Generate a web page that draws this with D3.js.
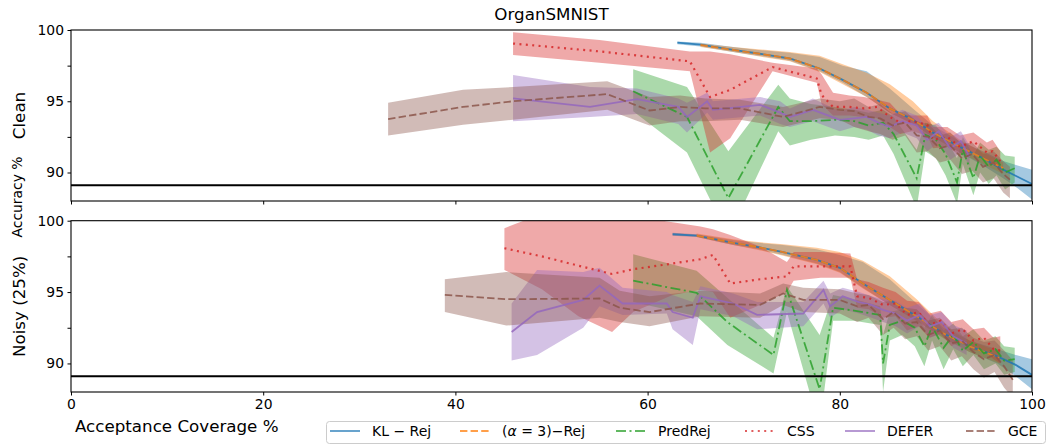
<!DOCTYPE html>
<html lang="en">
<head>
<meta charset="UTF-8">
<script src="https://d3js.org/d3.v7.min.js"></script>
<style>
  body { margin: 0; background: #fff; }
  svg { font-family: "DejaVu Sans", sans-serif; }
</style>
</head>
<body>
<svg id="chart" width="1049" height="445"></svg>
<script>
// method names, x ticks and y ticks
var methods = ["KL − Rej", "(α = 3)−Rej", "PredRej", "CSS", "DEFER", "GCE"];
var xTicks = [0, 20, 40, 60, 80, 100];
var yTicks = [90, 92.5, 95, 97.5, 100];
var baseline = 89.1;

// rows are [coverage, mean acc, lower, upper]
var cleanKL = [[63.1,99.12,99.0,99.2],[65.5,98.98,98.85,99.1],[68.9,98.6,98.45,98.8],[71.5,98.35,98.2,98.6],
  [74.8,98.0,97.85,98.4],[77.9,97.3,97.1,98.1],[80.3,96.5,96.3,97.5],[82.8,95.6,95.3,97.1],[85.2,94.5,94.2,95.9],
  [87.6,93.7,93.4,94.5],[89.7,92.8,92.5,93.3],[92.5,91.8,91.4,92.2],[94.9,91.0,90.5,91.5],[97.0,90.2,89.6,90.8],
  [98.5,89.7,88.9,90.5],[100,89.2,88.1,90.2]];
var cleanAlpha = [[65.5,98.95,98.8,99.05],[68.9,98.6,98.45,98.8],[71.5,98.35,98.15,98.65],[74.8,98.0,97.8,98.45],
  [77.9,97.3,97.05,98.2],[80.3,96.5,96.2,97.6],[82.8,95.6,95.3,97.0],[85.2,94.5,94.2,96.2],[87.6,93.7,93.4,95.0],
  [89.7,92.8,92.5,93.6],[92.5,91.8,91.4,92.3],[94.9,91.0,90.6,91.4],[97.0,90.3,89.9,90.7]];
var cleanPred = [[58.5,95.7,94.3,97.25],[64.1,93.9,91.4,96.0],[68.4,88.2,85.5,91.5],[73.6,94.6,92.9,96.15],
  [74.8,93.6,91.9,95.2],[77.0,93.6,92.3,94.8],[79.5,93.7,92.6,94.6],[81.5,93.6,92.5,94.4],[83.0,93.3,92.3,94.2],
  [84.5,93.5,92.6,94.4],[85.6,92.7,91.3,93.9],[88.0,89.6,87.5,91.6],[88.9,92.65,91.5,93.5],[90.0,92.3,91.0,93.3],
  [91.0,91.3,89.8,92.4],[92.2,89.3,87.8,91.0],[92.8,91.6,90.6,92.5],[93.9,89.6,88.4,91.2],[94.6,91.2,90.0,92.1],
  [95.5,90.4,89.2,91.6],[96.3,90.9,89.8,91.8],[97.2,90.0,88.8,91.2],[98.2,90.3,89.3,91.1]];
var cleanCSS = [[46.0,99.05,98.25,99.85],[55.0,98.5,97.7,99.3],[64.4,97.8,97.1,98.5],[66.5,95.3,91.4,98.5],
  [68.6,95.8,92.4,98.3],[73.0,97.4,97.1,97.7],[77.6,96.6,96.3,97.3],[78.1,95.45,94.8,96.9],[79.3,94.6,94.0,95.6],
  [81.0,94.6,94.0,95.4],[82.5,94.5,93.9,95.3],[83.9,94.6,93.8,95.1],[85.2,93.9,93.2,94.9],[86.3,93.5,92.7,94.1],
  [87.5,93.6,92.9,94.0],[89.1,93.35,92.6,94.0],[89.7,92.3,91.7,93.2],[91.2,92.5,91.8,93.2],[92.5,91.8,91.2,92.6],
  [93.9,92.2,91.4,92.8],[95.3,91.4,90.8,92.1],[95.9,91.5,90.6,92.3],[96.7,90.8,90.2,91.5]];
var cleanDefer = [[46.0,95.2,93.6,96.85],[54.0,94.6,93.9,96.0],[58.9,95.15,94.1,95.9],[63.2,94.6,93.4,95.2],
  [64.1,93.9,92.8,94.9],[66.2,95.0,94.2,95.6],[66.8,94.4,93.7,95.0],[71.7,94.75,94.0,95.3],[73.8,94.2,93.4,95.0],
  [74.8,93.9,93.2,94.5],[77.2,94.4,93.6,95.2],[80.0,93.7,92.9,94.3],[81.5,93.8,93.2,94.6],[82.8,93.9,93.0,94.4],
  [84.0,93.5,92.6,94.2],[85.2,93.2,92.4,94.0],[86.5,93.6,92.8,94.4],[88.0,93.3,92.4,94.0],[89.1,92.3,91.5,93.2],
  [90.3,92.9,92.1,93.5],[91.5,91.7,90.9,92.5],[92.6,92.2,91.4,92.9],[93.5,91.1,90.5,91.9]];
var cleanGCE = [[33.0,93.75,92.6,94.9],[40.8,94.6,93.35,95.8],[46.0,95.0,93.7,96.0],[55.8,95.5,94.4,96.4],
  [60.2,94.35,93.3,95.3],[63.4,94.6,93.6,95.4],[66.0,94.5,93.6,95.2],[69.6,94.5,93.7,95.1],[74.1,93.9,93.2,94.6],
  [77.9,94.6,93.8,95.2],[80.0,94.4,93.7,95.0],[81.5,94.3,93.2,95.2],[83.0,93.9,92.9,94.6],[84.2,93.8,92.7,94.8],
  [85.5,93.3,92.3,94.1],[86.8,93.5,92.6,94.3],[88.0,92.6,91.4,93.6],[89.2,92.5,91.5,93.4],[90.4,91.7,90.7,92.6],
  [91.5,91.9,90.9,92.8],[92.7,91.0,89.9,92.0],[93.8,91.3,90.1,92.1],[94.9,90.4,89.3,91.3],[96.0,90.7,89.6,91.5],
  [97.0,89.9,88.6,90.8],[97.7,89.5,88.2,90.4]];

var noisyKL = [[62.6,99.05,98.95,99.15],[65.1,98.95,98.85,99.05],[68.9,98.45,98.3,98.65],[71.5,98.15,98.0,98.45],
  [74.1,97.8,97.6,98.3],[77.6,97.25,97.0,98.0],[80.0,96.7,96.4,97.6],[82.4,95.6,95.3,97.1],[85.2,94.45,94.1,95.9],
  [88.0,93.3,93.0,94.2],[90.8,92.1,91.8,92.5],[93.5,91.2,90.8,91.6],[96.4,90.5,90.0,91.0],[98.3,89.9,89.1,90.6],
  [100,89.2,88.2,90.3]];
var noisyAlpha = [[65.1,98.95,98.85,99.1],[68.9,98.45,98.3,98.7],[71.5,98.15,97.95,98.5],[74.1,97.8,97.55,98.35],
  [77.6,97.25,96.95,98.1],[80.0,96.7,96.35,97.8],[82.4,95.6,95.25,97.2],[85.2,94.45,94.1,96.1],[88.0,93.3,92.95,94.5],
  [90.8,92.1,91.75,92.7],[93.5,91.2,90.8,91.6],[96.6,90.4,90.0,90.8]];
var noisyPred = [[58.5,95.8,94.3,97.65],[65.1,94.95,93.3,96.5],[68.3,92.9,91.3,94.6],[73.1,90.6,89.3,91.8],
  [74.5,95.15,93.6,95.4],[77.9,88.2,85.5,92.0],[79.3,93.9,93.0,94.8],[81.5,93.7,93.0,94.5],[84.2,93.4,92.7,94.0],
  [84.5,90.0,88.0,92.0],[85.2,92.7,91.6,93.6],[86.5,93.0,92.0,93.8],[87.8,92.5,91.2,93.5],[88.8,91.2,89.8,92.5],
  [89.6,92.6,91.6,93.4],[90.8,91.1,89.6,92.3],[91.8,92.0,91.0,92.8],[92.8,90.9,89.8,91.9],[93.9,91.5,90.6,92.4],
  [95.0,90.7,89.6,91.6],[96.2,91.0,90.0,91.9],[97.1,90.2,89.2,91.2],[98.2,90.3,89.4,91.1]];
var noisyCSS = [[45.1,98.07,96.55,99.47],[49.0,97.5,95.2,100.5],[52.8,96.85,93.3,100.8],[56.3,96.27,92.2,100.5],
  [58.5,96.6,93.6,100.3],[62.6,97.0,94.8,99.9],[65.5,97.3,95.15,99.6],[66.8,97.6,95.0,99.4],[68.6,95.6,93.2,99.0],
  [71.7,95.9,94.1,98.2],[74.5,96.1,95.0,97.1],[75.2,96.8,95.8,97.8],[78.0,96.8,96.0,97.8],[81.1,96.8,96.0,97.7],
  [81.8,94.7,93.9,95.9],[83.0,94.6,93.8,95.7],[84.5,94.1,93.2,95.3],[85.8,94.2,93.3,95.0],[87.0,93.4,92.3,94.4],
  [88.2,93.6,92.6,94.3],[89.3,92.7,91.8,93.5],[90.5,93.0,92.1,93.7],[91.6,92.1,91.2,92.9],[92.8,92.4,91.6,93.1],
  [93.9,91.6,90.9,92.4],[95.0,91.8,90.9,92.5],[96.0,91.0,90.3,91.8],[96.7,90.9,90.0,91.9]];
var noisyDefer = [[45.85,92.2,90.2,94.2],[48.5,93.6,90.6,96.55],[53.3,94.45,92.5,96.4],[55.0,95.45,94.0,96.7],
  [57.4,94.2,93.4,95.3],[62.0,94.2,93.5,95.0],[62.6,93.6,92.4,94.8],[64.7,93.2,91.3,94.3],[65.5,94.7,93.8,95.4],
  [68.9,94.2,93.3,94.9],[71.4,93.4,92.4,94.3],[76.2,93.5,92.6,94.3],[78.3,95.15,94.2,95.8],[79.0,94.0,93.2,94.9],
  [80.3,94.7,93.8,95.3],[82.0,94.3,93.5,95.0],[83.3,94.1,93.2,94.7],[84.5,93.75,92.9,94.5],[85.8,93.5,92.6,94.4],
  [87.0,93.0,92.1,93.9],[88.3,93.4,92.6,94.2],[89.4,92.6,91.8,93.4],[90.6,92.9,92.1,93.6],[91.8,91.9,91.1,92.7],
  [93.2,91.4,90.6,92.3]];
var noisyGCE = [[38.9,94.8,93.6,95.9],[45.3,94.5,92.65,96.4],[55.0,94.55,93.2,96.0],[57.1,93.9,92.9,95.1],
  [60.2,93.6,92.6,94.7],[65.5,94.2,93.3,95.1],[71.7,94.1,93.2,94.9],[74.1,94.9,94.1,95.6],[76.2,94.45,93.6,95.3],
  [80.0,94.45,93.5,95.2],[81.8,94.0,92.9,94.9],[83.0,94.1,93.2,94.8],[84.5,93.1,92.0,94.3],[85.6,93.6,92.5,94.4],
  [86.8,92.8,91.7,93.9],[88.0,92.9,91.9,93.8],[89.2,92.0,90.9,93.0],[90.4,92.3,91.2,93.2],[91.6,91.4,90.2,92.4],
  [92.7,91.6,90.5,92.5],[93.9,90.8,89.6,91.8],[95.0,90.3,89.0,91.5],[96.1,90.6,89.4,91.6],[97.1,89.8,88.3,90.9],
  [98.0,88.85,87.6,90.2]];

var colors = ["#1f77b4", "#ff7f0e", "#2ca02c", "#d62728", "#9467bd", "#8c564b"];
var dashes = [null, "7.4,3.2", "10,3.5,2,3.5", "2,4.4", null, "7.4,3.2"];

var svg = d3.select("#chart");
var x = d3.scaleLinear().domain([0, 100]).range([71, 1032]);

var panels = [
    { label: "Clean", top: 30, bottom: 201, series: [cleanKL, cleanAlpha, cleanPred, cleanCSS, cleanDefer, cleanGCE], labels: false },
    { label: "Noisy (25%)", top: 220.7, bottom: 392, series: [noisyKL, noisyAlpha, noisyPred, noisyCSS, noisyDefer, noisyGCE], labels: true }
];

panels.forEach(function (p, pi) {
    var y = d3.scaleLinear().domain([88, 100]).range([p.bottom, p.top]);

    svg.append("clipPath").attr("id", "clip" + pi)
        .append("rect")
        .attr("x", x(0)).attr("y", p.top)
        .attr("width", x(100) - x(0)).attr("height", p.bottom - p.top);

    var g = svg.append("g").attr("clip-path", "url(#clip" + pi + ")");

    var area = d3.area()
        .x(function (d) { return x(d[0]); })
        .y0(function (d) { return y(d[2]); })
        .y1(function (d) { return y(d[3]); });
    var line = d3.line()
        .x(function (d) { return x(d[0]); })
        .y(function (d) { return y(d[1]); });

    // bands first, lines on top (like matplotlib zorder)
    p.series.forEach(function (s, i) {
        g.append("path").attr("d", area(s))
            .attr("fill", colors[i]).attr("fill-opacity", 0.4);
    });
    p.series.forEach(function (s, i) {
        g.append("path").attr("d", line(s))
            .attr("fill", "none")
            .attr("stroke", colors[i])
            .attr("stroke-opacity", 0.85)
            .attr("stroke-width", i == 3 ? 2.2 : 1.8)
            .attr("stroke-dasharray", dashes[i]);
    });

    g.append("line")
        .attr("x1", x(0)).attr("x2", x(100))
        .attr("y1", y(baseline)).attr("y2", y(baseline))
        .attr("stroke", "black").attr("stroke-width", 2);

    // axes
    var xAxis = d3.axisBottom(x).tickValues(xTicks).tickSize(3.5).tickPadding(3.5)
        .tickFormat(p.labels ? d3.format("d") : "");
    svg.append("g").attr("transform", "translate(0," + p.bottom + ")")
        .call(xAxis)
        .call(function (a) { a.select(".domain").remove(); })
        .selectAll("text").attr("font-size", "13.9px").attr("font-family", "DejaVu Sans").attr("fill", "black");

    var yAxis = d3.axisLeft(y).tickValues(yTicks).tickSize(3.5).tickPadding(3.5)
        .tickFormat(function (d) { return d % 5 == 0 ? d : ""; });
    svg.append("g").attr("transform", "translate(" + x(0) + ",0)")
        .call(yAxis)
        .call(function (a) { a.select(".domain").remove(); })
        .selectAll("text").attr("font-size", "13.9px").attr("font-family", "DejaVu Sans").attr("fill", "black");

    svg.append("rect")
        .attr("x", x(0)).attr("y", p.top)
        .attr("width", x(100) - x(0)).attr("height", p.bottom - p.top)
        .attr("fill", "none").attr("stroke", "black").attr("stroke-width", 1.1);

    svg.append("text")
        .attr("transform", "translate(25," + ((p.top + p.bottom) / 2) + ") rotate(-90)")
        .attr("text-anchor", "middle")
        .attr("font-size", "16.7px")
        .text(p.label);
});

// title and shared labels
svg.append("text").attr("x", (x(0) + x(100)) / 2).attr("y", 20)
    .attr("text-anchor", "middle").attr("font-size", "16.7px").text("OrganSMNIST");

svg.append("text").attr("transform", "translate(22,197) rotate(-90)")
    .attr("text-anchor", "middle").attr("font-size", "13.9px").text("Accuracy %");

svg.append("text").attr("x", 75).attr("y", 432)
    .attr("font-size", "16.7px").text("Acceptance Coverage %");

// legend, entry positions
var legendX = [372, 502, 658, 787, 887, 1008];
var legend = svg.append("g");
legend.append("rect")
    .attr("x", 326.5).attr("y", 421.5).attr("width", 719).attr("height", 22).attr("rx", 3)
    .attr("fill", "white").attr("fill-opacity", 0.8)
    .attr("stroke", "#cccccc").attr("stroke-width", 1);

methods.forEach(function (m, i) {
    var lx = legendX[i];
    legend.append("line")
        .attr("x1", lx - 42).attr("x2", lx - 12)
        .attr("y1", 431).attr("y2", 431)
        .attr("stroke", colors[i]).attr("stroke-opacity", 0.75)
        .attr("stroke-width", i == 3 ? 2.2 : 1.8)
        .attr("stroke-dasharray", dashes[i]);
    var t = legend.append("text").attr("x", lx).attr("y", 436).attr("font-size", "14px");
    if (i == 1) {
        t.append("tspan").text("(");
        t.append("tspan").attr("font-style", "italic").text("α");
        t.append("tspan").text(" = 3)−Rej");
    } else {
        t.text(m);
    }
});
</script>
</body>
</html>
